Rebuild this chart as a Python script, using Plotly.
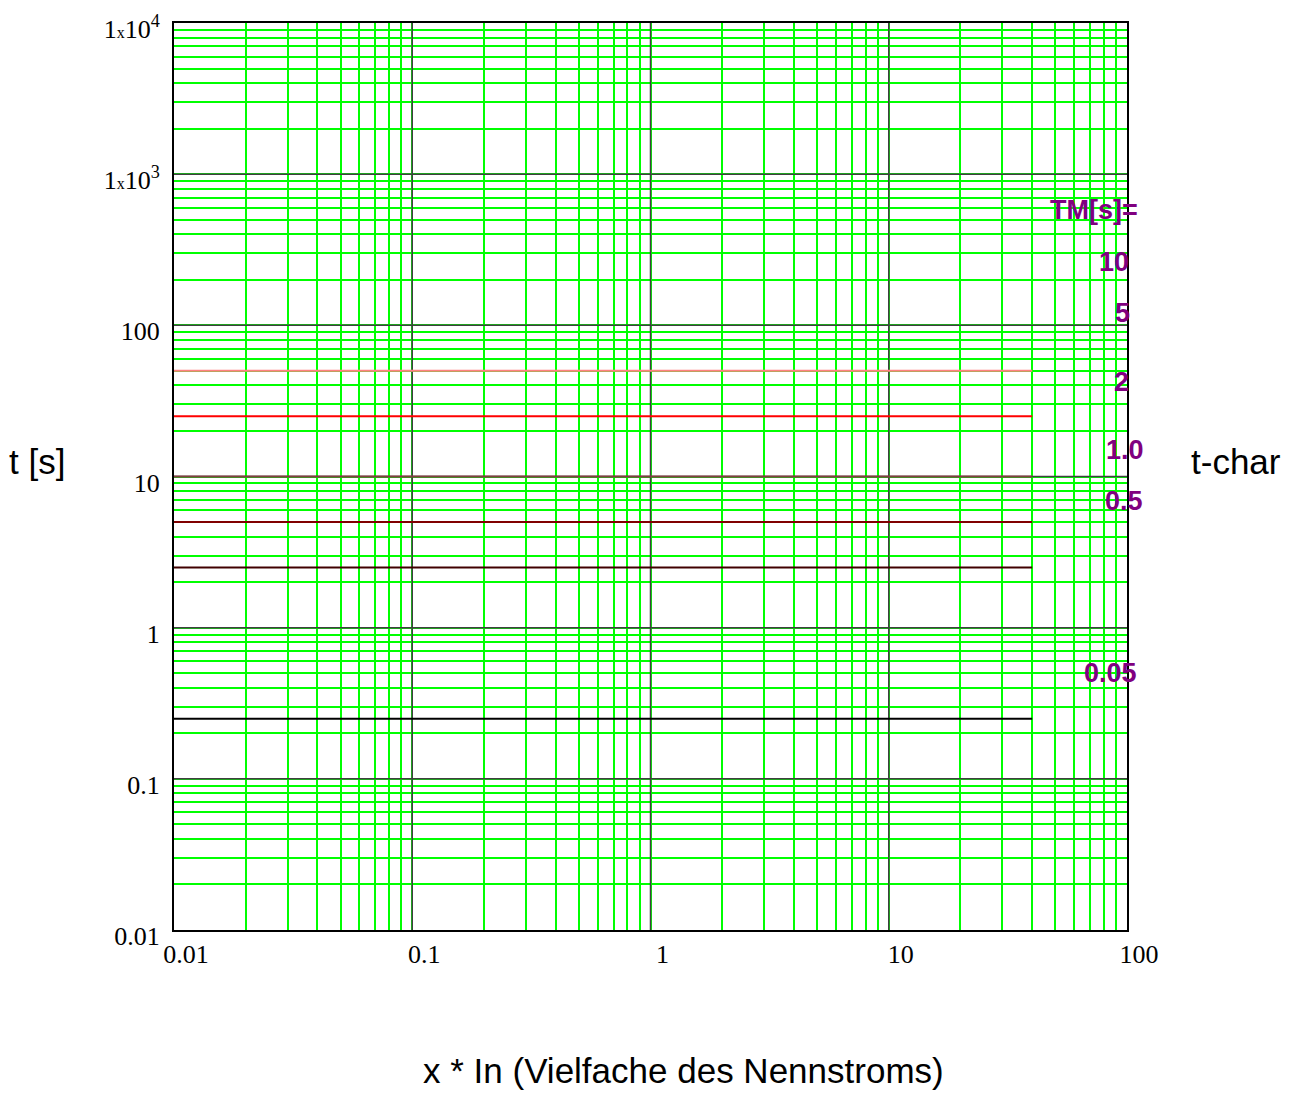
import plotly.graph_objects as go

# ── Data ──────────────────────────────────────────────────────
tm_labels = ["10", "5", "2", "1.0", "0.5", "0.05"]
t_values = [50, 25, 10, 5, 2.5, 0.25]
x_start, x_end = 0.01, 40
line_colors = ["#ff8080", "#ff0000", "#804040", "#800000", "#400000", "#000000"]

x_decades = [0.01, 0.1, 1, 10, 100]
x_ticktext = ["0.01", "0.1", "1", "10", "100"]
y_decades = [0.01, 0.1, 1, 10, 100, 1000, 10000]
y_ticktext = ["0.01", "0.1", "1", "10", "100",
              "1<span style='font-size:16px'>x</span>10<sup>3</sup>",
              "1<span style='font-size:16px'>x</span>10<sup>4</sup>"]

# label placement (paper coords) for TM annotations
tm_head_pos = (0.917, 0.794)
tm_label_pos = [(0.9685, 0.7365), (0.9853, 0.680), (0.984, 0.604),
                (0.976, 0.529), (0.975, 0.473), (0.953, 0.283)]

PURPLE = "#800080"
GRID_GREEN = "#00ff00"
MAJOR_GRID = "#404040"


def all_grid(decades, labels):
    """Tick values for every 1..9 x decade; only decades get text."""
    vals, text = [], []
    for i, d in enumerate(decades):
        vals.append(d)
        text.append(labels[i])
        if i < len(decades) - 1:
            for k in range(2, 10):
                vals.append(d * k)
                text.append("")
    return vals, text


xv, xt = all_grid(x_decades, x_ticktext)
yv, yt = all_grid(y_decades, y_ticktext)

fig = go.Figure()

# decade grid lines (dark), drawn under the curves
gx, gy = [], []
for d in x_decades[1:-1]:
    gx += [d, d, None]
    gy += [y_decades[0], y_decades[-1], None]
for d in y_decades[1:-1]:
    gx += [x_decades[0], x_decades[-1], None]
    gy += [d, d, None]
fig.add_trace(go.Scatter(x=gx, y=gy, mode="lines",
                         line=dict(color=MAJOR_GRID, width=1.5),
                         hoverinfo="skip", showlegend=False))

for t, c in zip(t_values, line_colors):
    fig.add_trace(go.Scatter(
        x=[x_start, x_end], y=[t, t],
        mode="lines",
        line=dict(color=c, width=2),
        hoverinfo="skip",
        showlegend=False,
    ))

axis_common = dict(
    type="log", automargin=False,
    showline=True, mirror=True, linecolor="#000000", linewidth=2,
    showgrid=True, gridcolor=GRID_GREEN, gridwidth=1.5,
    zeroline=False, ticks="", tickmode="array", ticklabeloverflow="allow",
    tickfont=dict(family="Liberation Serif, Times New Roman, serif", size=26, color="#000000"),
)

fig.update_layout(
    width=1287, height=1085,
    paper_bgcolor="white", plot_bgcolor="white",
    margin=dict(l=166, r=168, t=15, b=163),
    showlegend=False,
    xaxis=dict(**axis_common, range=[-2, 2], tickvals=xv, ticktext=xt,
               ticklabelshift=12, ticklabelstandoff=0),
    yaxis=dict(**axis_common, range=[-2, 4], tickvals=yv, ticktext=yt,
               ticklabelshift=6, ticklabelstandoff=7),
)

# TM labels
label_font = dict(family="Arial, Liberation Sans, sans-serif", size=27, color=PURPLE)
fig.add_annotation(text="<b>TM[s]=</b>", x=tm_head_pos[0], y=tm_head_pos[1],
                   xref="paper", yref="paper", xanchor="left", yanchor="middle",
                   showarrow=False, font=label_font)
for lab, (px, py) in zip(tm_labels, tm_label_pos):
    fig.add_annotation(text=f"<b>{lab}</b>", x=px, y=py,
                       xref="paper", yref="paper", xanchor="left", yanchor="middle",
                       showarrow=False, font=label_font)

# axis titles
title_font = dict(family="Arial, Liberation Sans, sans-serif", size=35, color="#000000")
fig.add_annotation(text="t [s]", x=-0.144, y=0.517, xref="paper", yref="paper",
                   xanchor="center", yanchor="middle", showarrow=False, font=title_font)
fig.add_annotation(text="t-char", x=1.1145, y=0.516, xref="paper", yref="paper",
                   xanchor="center", yanchor="middle", showarrow=False, font=title_font)
fig.add_annotation(text="x * In (Vielfache des Nennstroms)", x=0.535, y=-0.155,
                   xref="paper", yref="paper", xanchor="center", yanchor="middle",
                   showarrow=False, font=title_font)

fig.write_html("out.html")
